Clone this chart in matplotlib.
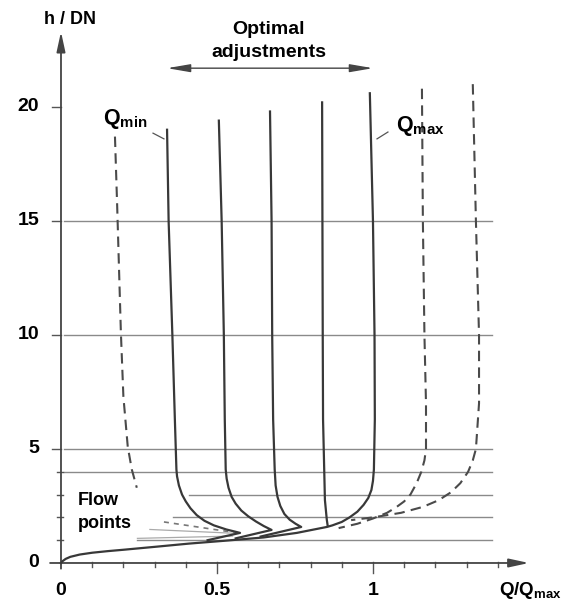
import numpy as np
import matplotlib.pyplot as plt

plt.rcParams['font.family'] = ['Liberation Sans', 'DejaVu Sans']
plt.rcParams['font.weight'] = 'bold'
plt.rcParams['mathtext.fontset'] = 'custom'
plt.rcParams['mathtext.rm'] = 'Liberation Sans:bold'
plt.rcParams['mathtext.bf'] = 'Liberation Sans:bold'
plt.rcParams['mathtext.it'] = 'Liberation Sans:bold'

# --- data (Q/Qmax, h/DN) ---
# Qmax curve, starting at the origin (common lower branch) and going up
qmax_x = [0, 0.005, 0.015, 0.03, 0.06, 0.1, 0.15, 0.2, 0.31, 0.41, 0.52, 0.65, 0.756,
          0.852, 0.87, 0.9, 0.925, 0.95, 0.97, 0.985, 0.995, 1.0, 1.003, 1.006, 1.005,
          1.0, 0.99]
qmax_h = [0, 0.08, 0.18, 0.27, 0.37, 0.45, 0.52, 0.58, 0.72, 0.85, 0.97, 1.12, 1.32,
          1.58, 1.65, 1.8, 2.0, 2.25, 2.55, 2.85, 3.2, 3.6, 4.1, 6.3, 10,
          15, 20.6]

qmin_x = [0.34, 0.345, 0.357, 0.365, 0.37, 0.372, 0.378, 0.388, 0.40, 0.415, 0.435,
          0.46, 0.49, 0.53, 0.574, 0.47]
qmin_h = [19.0, 15, 10, 6.3, 4.1, 3.8, 3.4, 3.0, 2.7, 2.4, 2.1,
          1.85, 1.65, 1.47, 1.32, 1.0]

adj2_x = [0.506, 0.515, 0.522, 0.525, 0.528, 0.531, 0.537, 0.547, 0.56, 0.578, 0.6,
          0.625, 0.65, 0.675, 0.56]
adj2_h = [19.4, 15, 10, 6.3, 4.1, 3.7, 3.3, 2.9, 2.6, 2.3, 2.05,
          1.82, 1.62, 1.45, 1.08]

adj3_x = [0.67, 0.675, 0.677, 0.68, 0.685, 0.688, 0.694, 0.703, 0.716, 0.733, 0.752,
          0.77, 0.64]
adj3_h = [19.8, 15, 10, 6.3, 4.1, 3.4, 2.9, 2.5, 2.15, 1.9, 1.72,
          1.58, 1.16]

adj4_x = [0.837, 0.838, 0.839, 0.84, 0.846, 0.852, 0.855]
adj4_h = [20.2, 15, 10, 6.3, 2.76, 1.9, 1.62]

dash_left_x = [0.173, 0.18, 0.192, 0.2, 0.214, 0.227, 0.243]
dash_left_h = [18.7, 15.7, 10.1, 7.3, 5.1, 4.1, 3.3]

dash_r1_x = [1.157, 1.16, 1.165, 1.17, 1.17, 1.165, 1.155, 1.14, 1.12, 1.1, 1.075,
             1.045, 1.0, 0.95, 0.89]
dash_r1_h = [20.8, 15, 10, 7, 5, 4.5, 4.0, 3.5, 3.0, 2.7, 2.45,
             2.2, 1.95, 1.72, 1.53]

dash_r2_x = [1.32, 1.33, 1.34, 1.34, 1.33, 1.32, 1.305, 1.28, 1.25, 1.21, 1.16,
             1.09, 1.0, 0.93]
dash_r2_h = [21.0, 15, 10, 7, 5, 4.5, 4.0, 3.5, 3.1, 2.75, 2.46,
             2.2, 2.0, 1.88]

# faint "flow point" lines near the Qmin tip
flow_x = [[0.33, 0.56], [0.285, 0.56], [0.245, 0.55]]
flow_h = [[1.8, 1.33], [1.47, 1.3], [1.08, 1.18]]

grid_h = [1, 2, 3, 4, 5, 10, 15]
grid_start = [0.245, 0.36, 0.41, 0.01, 0.01, 0.01, 0.01]

x_major = [0, 0.5, 1]
x_major_labels = ['0', '0.5', '1']
x_minor = [0.1, 0.2, 0.3, 0.4, 0.6, 0.7, 0.8, 0.9, 1.1, 1.2, 1.3, 1.4]
y_major = [0, 5, 10, 15, 20]
y_minor = [1, 2, 3, 4]

fig = plt.figure(figsize=(5.72, 6.01), dpi=100)
ax = fig.add_axes([0, 0, 1, 1])
ax.set_xlim(-0.1955, 1.638)
ax.set_ylim(-1.667, 24.69)
ax.axis('off')

line_c = '#383838'
grid_c = '#8a8a8a'

# grid lines
for h, s in zip(grid_h, grid_start):
    ax.plot([s, 1.38], [h, h], color=grid_c, lw=1.0, zorder=1)

# axes with arrows
ax.annotate('', xy=(0.0, 23.3), xytext=(0.0, -0.25),
            arrowprops=dict(arrowstyle='-|>,head_length=0.6,head_width=0.13',
                            mutation_scale=20, color='#444444', lw=1.3, shrinkA=0, shrinkB=0))
ax.annotate('', xy=(1.5, 0), xytext=(-0.035, 0),
            arrowprops=dict(arrowstyle='-|>,head_length=0.6,head_width=0.13',
                            mutation_scale=20, color='#444444', lw=1.3, shrinkA=0, shrinkB=0))

# ticks
for x in x_minor:
    ax.plot([x, x], [0.05, -0.18], color='#555555', lw=1.0)
for x in x_major[1:]:
    ax.plot([x, x], [0.05, -0.45], color='#555555', lw=1.0)
for y in y_minor:
    ax.plot([-0.012, 0.006], [y, y], color='#555555', lw=1.0)
for y in y_major[1:]:
    ax.plot([-0.028, 0], [y, y], color='#555555', lw=1.0)

for x, lab in zip(x_major, x_major_labels):
    ax.text(x, -1.2, lab, ha='center', va='center', fontsize=14, fontweight='bold')
for y in y_major:
    ax.text(-0.07, y, str(y), ha='right', va='center', fontsize=14, fontweight='bold')

# curves
for xs, hs in [(qmax_x, qmax_h), (qmin_x, qmin_h), (adj2_x, adj2_h),
               (adj3_x, adj3_h), (adj4_x, adj4_h)]:
    ax.plot(xs, hs, color=line_c, lw=1.6, zorder=3, solid_joinstyle='round')

for xs, hs in [(dash_left_x, dash_left_h), (dash_r1_x, dash_r1_h), (dash_r2_x, dash_r2_h)]:
    ax.plot(xs, hs, color='#4a4a4a', lw=1.5, dashes=(5, 3), zorder=3)

ax.plot(flow_x[0], flow_h[0], color='#777777', lw=1.2, dashes=(3, 3), zorder=2)
for xs, hs in zip(flow_x[1:], flow_h[1:]):
    ax.plot(xs, hs, color='#aaaaaa', lw=0.9, zorder=2)

# labels
ax.text(0.03, 23.85, 'h / DN', ha='center', va='center', fontsize=13, fontweight='bold')
ax.text(0.665, 23.4, 'Optimal', ha='center', va='center', fontsize=14, fontweight='bold')
ax.text(0.665, 22.4, 'adjustments', ha='center', va='center', fontsize=14, fontweight='bold')
ax.annotate('', xy=(1.0, 21.7), xytext=(0.34, 21.7),
            arrowprops=dict(arrowstyle='<|-|>,head_length=0.7,head_width=0.12',
                            mutation_scale=20, color='#444444', lw=1.0, shrinkA=0, shrinkB=0))

ax.text(0.135, 19.45, r'$\mathbf{Q_{min}}$', ha='left', va='center', fontsize=15.5)
ax.plot([0.295, 0.33], [18.85, 18.6], color='#555555', lw=0.9)
ax.text(1.075, 19.15, r'$\mathbf{Q_{max}}$', ha='left', va='center', fontsize=15.5)
ax.plot([1.013, 1.048], [18.6, 18.9], color='#555555', lw=0.9)

ax.text(0.055, 2.75, 'Flow', ha='left', va='center', fontsize=13, fontweight='bold')
ax.text(0.055, 1.72, 'points', ha='left', va='center', fontsize=13, fontweight='bold')

ax.text(1.405, -1.2, r'$\mathbf{Q/Q_{max}}$', ha='left', va='center', fontsize=13.5)

fig.savefig('out.png', dpi=100)
